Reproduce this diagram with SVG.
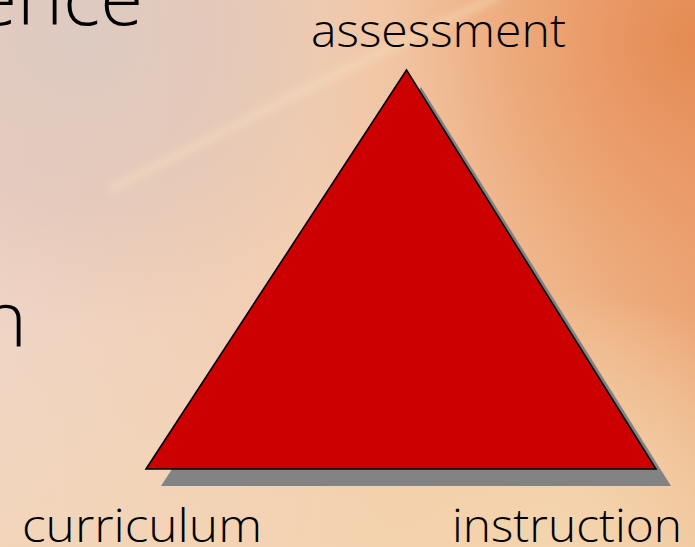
<svg xmlns="http://www.w3.org/2000/svg" width="695" height="547" viewBox="0 0 695 547">
  <defs>
    <linearGradient id="bg" x1="0" y1="0" x2="1" y2="0">
      <stop offset="0" stop-color="#efd4c6"/>
      <stop offset="0.45" stop-color="#f2cdb0"/>
      <stop offset="0.8" stop-color="#efb68a"/>
      <stop offset="1" stop-color="#eca474"/>
    </linearGradient>
    <radialGradient id="tr" cx="695" cy="40" r="300" gradientUnits="userSpaceOnUse">
      <stop offset="0" stop-color="#e4874f" stop-opacity="0.9"/>
      <stop offset="0.6" stop-color="#e99561" stop-opacity="0.45"/>
      <stop offset="1" stop-color="#eba070" stop-opacity="0"/>
    </radialGradient>
    <radialGradient id="tl" cx="80" cy="30" r="300" gradientUnits="userSpaceOnUse">
      <stop offset="0" stop-color="#dccac2" stop-opacity="0.95"/>
      <stop offset="0.6" stop-color="#dcc3b8" stop-opacity="0.5"/>
      <stop offset="1" stop-color="#e2c2b0" stop-opacity="0"/>
    </radialGradient>
    <radialGradient id="br" cx="560" cy="547" r="260" gradientUnits="userSpaceOnUse">
      <stop offset="0" stop-color="#f4d7ae" stop-opacity="0.9"/>
      <stop offset="1" stop-color="#f4d7ae" stop-opacity="0"/>
    </radialGradient>
    <linearGradient id="bot" x1="0" y1="0" x2="0" y2="1">
      <stop offset="0.55" stop-color="#f5dcb8" stop-opacity="0"/>
      <stop offset="1" stop-color="#f4d6b2" stop-opacity="0.6"/>
    </linearGradient>
    <filter id="blur" x="-20%" y="-20%" width="140%" height="140%">
      <feGaussianBlur stdDeviation="4"/>
    </filter>
    <style>
      .lbl { font-family: "Open Sans", "DejaVu Sans", sans-serif; font-weight: 300; font-size: 46px; fill: #000; }
      .big { font-family: "Open Sans", "DejaVu Sans", sans-serif; font-weight: 300; font-size: 78px; fill: #000; }
      .tri { fill: #cc0000; stroke: #000; stroke-width: 1.6; stroke-linejoin: miter; }
      .shadow { fill: #838383; }
    </style>
  </defs>
  <g id="background">
    <rect width="695" height="547" fill="url(#bg)"/>
    <rect width="695" height="547" fill="url(#tl)"/>
    <rect width="695" height="547" fill="url(#tr)"/>
    <rect width="695" height="547" fill="url(#br)"/>
    <rect width="695" height="547" fill="url(#bot)"/>
    <path d="M 110 190 Q 300 90 500 -5" stroke="#f8e2c0" stroke-width="6" fill="none" opacity="0.6" filter="url(#blur)"/>
  </g>
  <g id="slide-text">
    <text class="big" x="143" y="25" text-anchor="end">ence</text>
    <text class="big" x="27" y="347" text-anchor="end">n</text>
  </g>
  <g id="triangle">
    <polygon class="shadow" points="421,87 671,486 161,486"/>
    <polygon class="tri" points="406.5,70 656,469 146,469"/>
  </g>
  <g id="label-assessment">
    <text class="lbl" x="311" y="47" textLength="255" lengthAdjust="spacingAndGlyphs">assessment</text>
  </g>
  <g id="label-curriculum">
    <text class="lbl" x="22" y="542" textLength="240" lengthAdjust="spacingAndGlyphs">curriculum</text>
  </g>
  <g id="label-instruction">
    <text class="lbl" x="452" y="542" textLength="230" lengthAdjust="spacingAndGlyphs">instruction</text>
  </g>
  <g id="connectors"/>
</svg>
